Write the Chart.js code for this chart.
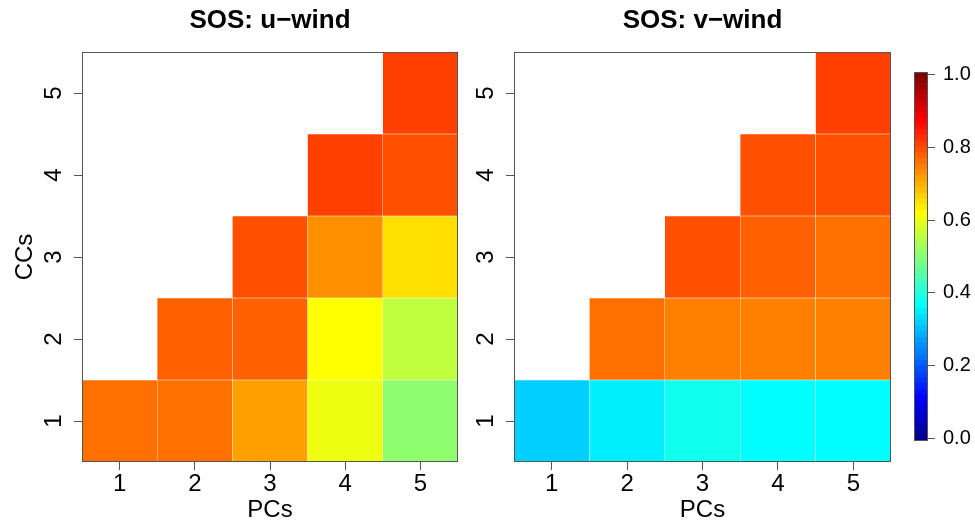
<!DOCTYPE html>
<html>
<head>
<meta charset="utf-8">
<script src="https://cdn.jsdelivr.net/npm/chart.js@4"></script>
<style>
  html, body { margin: 0; padding: 0; background: #fff; }
  .box { position: absolute; top: 0; }
</style>
</head>
<body>
<div class="box" style="left:0"><canvas id="uChart" width="470" height="527"></canvas></div>
<div class="box" style="left:470px"><canvas id="vChart" width="430" height="527"></canvas></div>
<div class="box" style="left:900px"><canvas id="legendChart" width="75" height="527"></canvas></div>
<script>
// data: rows = CC 1..5, columns = PC 1..5 (only CC <= PC filled)
const PCs = ['1', '2', '3', '4', '5'];
const CCs = [1, 2, 3, 4, 5];
const uWind = [
  [0.76, 0.76, 0.71, 0.60, 0.51],
  [null, 0.77, 0.77, 0.62, 0.56],
  [null, null, 0.79, 0.73, 0.65],
  [null, null, null, 0.81, 0.79],
  [null, null, null, null, 0.81]
];
const vWind = [
  [0.32, 0.35, 0.38, 0.37, 0.37],
  [null, 0.76, 0.74, 0.74, 0.74],
  [null, null, 0.79, 0.77, 0.76],
  [null, null, null, 0.79, 0.79],
  [null, null, null, null, 0.81]
];
const legendTicks = [0, 0.2, 0.4, 0.6, 0.8, 1.0];

// tim.colors(64)
const PALETTE = ["#00008F","#00009F","#0000AF","#0000BF","#0000CF","#0000DF","#0000EF","#0000FF",
  "#0010FF","#0020FF","#0030FF","#0040FF","#0050FF","#0060FF","#0070FF","#0080FF",
  "#008FFF","#009FFF","#00AFFF","#00BFFF","#00CFFF","#00DFFF","#00EFFF","#00FFFF",
  "#10FFEF","#20FFDF","#30FFCF","#40FFBF","#50FFAF","#60FF9F","#70FF8F","#80FF80",
  "#8FFF70","#9FFF60","#AFFF50","#BFFF40","#CFFF30","#DFFF20","#EFFF10","#FFFF00",
  "#FFEF00","#FFDF00","#FFCF00","#FFBF00","#FFAF00","#FF9F00","#FF8F00","#FF8000",
  "#FF7000","#FF6000","#FF5000","#FF4000","#FF3000","#FF2000","#FF1000","#FF0000",
  "#EF0000","#DF0000","#CF0000","#BF0000","#AF0000","#9F0000","#8F0000","#800000"];

const colorFor = v => PALETTE[Math.min(63, Math.max(0, Math.floor(v * 64)))];

Chart.defaults.font.family = '"Liberation Sans", Arial, Helvetica, sans-serif';
Chart.defaults.color = '#000';
Chart.defaults.animation = false;

const AXIS = '#555';

// box around plot region
const frame = {
  id: 'frame',
  afterDatasetsDraw(chart) {
    const { ctx, chartArea: a } = chart;
    ctx.save();
    ctx.strokeStyle = AXIS;
    ctx.lineWidth = 1;
    ctx.strokeRect(Math.round(a.left) + 0.5, Math.round(a.top) + 0.5,
      Math.round(a.right - a.left) - 1, Math.round(a.bottom - a.top) - 1);
    ctx.restore();
  }
};

function heatmap(id, values, title, yTitle, yWidth, padRight) {
  const datasets = CCs.map((cc, r) => ({
    data: PCs.map((p, c) => values[r][c] == null ? null : [cc - 0.5, cc + 0.5]),
    backgroundColor: PCs.map((p, c) => values[r][c] == null ? 'rgba(0,0,0,0)' : colorFor(values[r][c])),
    borderColor: 'rgba(255,255,255,0.15)',
    borderWidth: 0.5,
    borderSkipped: false,
    grouped: false,
    barPercentage: 1,
    categoryPercentage: 1
  }));
  return new Chart(document.getElementById(id), {
    type: 'bar',
    data: { labels: PCs, datasets },
    plugins: [frame],
    options: {
      responsive: false,
      layout: { padding: { top: 0, right: padRight, bottom: 0, left: 0 } },
      plugins: {
        legend: { display: false },
        tooltip: { enabled: false },
        title: {
          display: true, text: title, fullSize: false, color: '#000',
          font: { size: 26, weight: 'bold' },
          padding: { top: 5, bottom: 15.8 }
        }
      },
      scales: {
        x: {
          type: 'category',
          offset: true,
          grid: { offset: false, drawOnChartArea: false, tickLength: 8, color: AXIS },
          border: { display: false },
          ticks: { font: { size: 24 }, padding: 0, maxRotation: 0 },
          title: { display: true, text: 'PCs', font: { size: 24 }, padding: { top: 0, bottom: 2 } },
          afterFit(s) { s.height = 65; }
        },
        y: {
          type: 'linear',
          min: 0.5, max: 5.5,
          afterBuildTicks(s) { s.ticks = CCs.map(v => ({ value: v })); },
          grid: { drawOnChartArea: false, tickLength: 8, color: AXIS },
          border: { display: false },
          ticks: { font: { size: 24 }, minRotation: 90, maxRotation: 90, crossAlign: 'center', padding: 13 },
          title: { display: !!yTitle, text: yTitle || '', font: { size: 24 }, padding: { top: 11, bottom: 0 } },
          afterFit(s) { s.width = yWidth; }
        }
      }
    }
  });
}

heatmap('uChart', uWind, 'SOS: u\u2212wind', 'CCs', 82, 12);
heatmap('vChart', vWind, 'SOS: v\u2212wind', null, 44, 9);

// colour bar legend
const half = 0.5 / 63;
new Chart(document.getElementById('legendChart'), {
  type: 'bar',
  data: {
    labels: [''],
    datasets: PALETTE.map((c, i) => ({
      data: [[i / 63 - half, i / 63 + half]],
      backgroundColor: c,
      grouped: false,
      barPercentage: 1,
      categoryPercentage: 1
    }))
  },
  plugins: [frame],
  options: {
    responsive: false,
    layout: { padding: { top: 72, right: 0, bottom: 86, left: 14 } },
    plugins: { legend: { display: false }, tooltip: { enabled: false } },
    scales: {
      x: { display: false },
      y: {
        position: 'right',
        min: -half, max: 1 + half,
        afterBuildTicks(s) { s.ticks = legendTicks.map(v => ({ value: v })); },
        grid: { drawOnChartArea: false, tickLength: 7, color: AXIS },
        border: { display: false },
        ticks: { font: { size: 20 }, padding: 8, callback: v => v.toFixed(1) },
        afterFit(s) { s.width = 47; }
      }
    }
  }
});
</script>
</body>
</html>
